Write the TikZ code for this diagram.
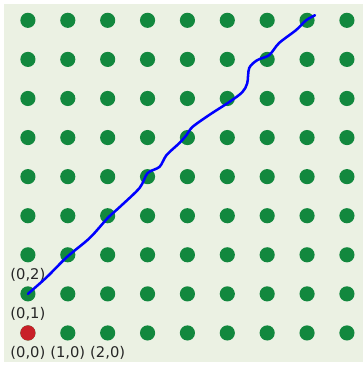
\documentclass[tikz,border=0pt]{standalone}
\usepackage{fontspec}
\setmainfont{DejaVu Sans}
\usetikzlibrary{positioning}

\definecolor{gridbg}{RGB}{235,241,227}
\definecolor{dotgreen}{RGB}{18,136,62}
\definecolor{dotred}{RGB}{200,32,40}

\tikzset{
  dot/.style={circle, fill=dotgreen, inner sep=0pt, minimum size=0.38cm},
  origin/.style={dot, fill=dotred},
  coordlabel/.style={font=\fontsize{10.5}{12}\selectfont, inner sep=0pt, text=black!85},
  walk/.style={blue, line width=1.8pt, line join=round, line cap=round}
}

\begin{document}
\begin{tikzpicture}[x=1cm, y=0.98cm]
\useasboundingbox (-0.7,-0.82) rectangle (8.4,8.52);
\fill[gridbg] (-0.6,-0.74) rectangle (8.4,8.41);
% lattice points
\foreach \i in {0,...,8}
  \foreach \j in {0,...,8}
    \node[dot] (d-\i-\j) at (\i,\j) {};
\node[origin] (d-0-0) at (0,0) {};
% labels
\node[coordlabel, below=0.14cm of d-0-0] (l-0-0) {(0,0)};
\node[coordlabel, below=0.14cm of d-1-0] (l-1-0) {(1,0)};
\node[coordlabel, below=0.14cm of d-2-0] (l-2-0) {(2,0)};
\node[coordlabel, below=0.14cm of d-0-1] (l-0-1) {(0,1)};
\node[coordlabel, below=0.14cm of d-0-2] (l-0-2) {(0,2)};
% the walk
\draw[walk] plot[smooth, tension=0.5] coordinates {
  (d-0-1.center) (0.475,1.43) (0.975,1.94) (1.55,2.43) (2.0,2.94)
  (2.3,3.22) (2.8,3.71) (3.0,4.09) (3.3,4.25) (3.475,4.55)
  (3.8,4.86) (3.975,5.06) (4.125,5.27) (4.55,5.58) (5.05,5.91)
  (5.375,6.16) (5.5,6.39) (5.55,6.78) (5.75,6.98) (6.05,7.11)
  (6.3,7.42) (6.725,7.75) (6.975,8.0) (7.2,8.13)};
\end{tikzpicture}
\end{document}
